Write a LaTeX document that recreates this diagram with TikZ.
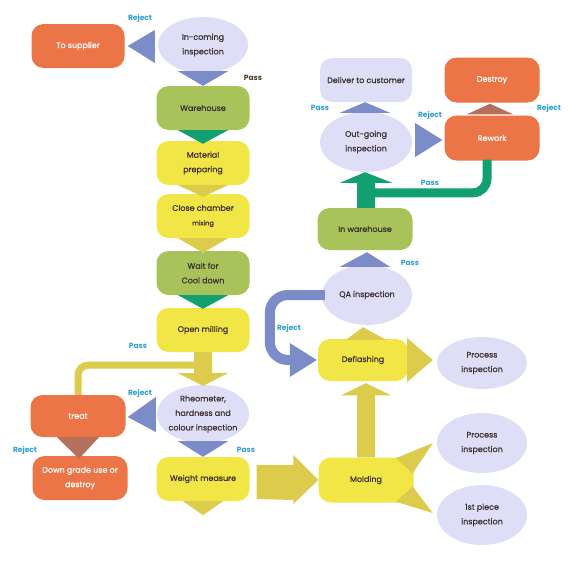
\documentclass[tikz,border=0pt]{standalone}
\usepackage{fontspec}
\setmainfont{Poppins}
\newfontfamily\boxfont{Poppins}[FakeBold=0.6]
\usetikzlibrary{shapes.geometric,calc}
\definecolor{orng}{HTML}{EC7548}
\definecolor{lav}{HTML}{DEDEF6}
\definecolor{bluT}{HTML}{7B8CC8}
\definecolor{grnL}{HTML}{A9C35B}
\definecolor{grnD}{HTML}{12A070}
\definecolor{yel}{HTML}{F2E646}
\definecolor{yelD}{HTML}{DDCB4C}
\definecolor{brnT}{HTML}{B4705A}
\definecolor{lblue}{HTML}{2A9ED6}
\definecolor{passdk}{HTML}{4A3A20}
\definecolor{txt}{HTML}{3B2F2F}
\begin{document}
\begin{tikzpicture}[x=1pt,y=1pt,
  box/.style={rectangle, rounded corners=12pt, minimum width=93pt, minimum height=44pt,
    inner sep=1pt, align=center, text=txt, font=\boxfont\fontsize{8}{14.5}\selectfont},
  oval/.style={ellipse, fill=lav, minimum width=90pt, minimum height=56pt,
    inner sep=-12pt, align=center, text=txt, font=\boxfont\fontsize{8}{14.5}\selectfont},
  wtxt/.style={text=white},
  lab/.style={font=\fontsize{7.5}{8}\selectfont\bfseries, text=lblue, inner sep=0pt}]
\useasboundingbox (0,0) rectangle (570,-570);
% ---- nodes
\node[oval] (inc) at (203,-45) {In-coming\\inspection};
\node[box, fill=orng, wtxt] (sup) at (78,-46) {To supplier};
\node[box, fill=grnL] (wh) at (203,-108) {Warehouse};
\node[box, fill=yel] (mat) at (203,-163) {Material\\preparing};
\node[box, fill=yel] (close) at (203,-216) {Close chamber\\{\fontsize{6.5}{14}\selectfont mixing}};
\node[box, fill=grnL] (wait) at (203,-273) {Wait for\\Cool down};
\node[box, fill=yel] (open) at (203,-330) {Open milling};
\node[oval, minimum width=92pt, minimum height=58pt] (rheo) at (203,-414) {Rheometer,\\hardness and\\colour inspection};
\node[box, fill=orng, wtxt, minimum width=95pt, minimum height=42pt] (treat) at (78,-416) {treat};
\node[box, fill=orng, wtxt, minimum width=95pt] (down) at (80,-478) {Down grade use or\\destroy};
\node[box, fill=yel] (weight) at (203,-479) {Weight measure};
\node[box, fill=yel, minimum width=95pt, minimum height=45pt] (mold) at (366,-480) {Molding};
\node[oval, minimum height=60pt] (pi2) at (482,-443) {Process\\inspection};
\node[oval, minimum height=60pt] (fp) at (482,-515) {1st piece\\inspection};
\node[box, fill=yel, minimum width=90pt, minimum height=42pt] (defl) at (363,-360) {Deflashing};
\node[oval, minimum height=52pt] (pi1) at (482,-363) {Process\\inspection};
\node[oval, minimum height=60pt] (qa) at (367,-295) {QA inspection};
\node[box, fill=grnL, minimum width=95pt, minimum height=42pt] (inw) at (365,-229) {In warehouse};
\node[oval, minimum width=92pt, minimum height=60pt] (out) at (366,-142) {Out-going\\inspection};
\node[box, fill=lav, minimum width=92pt] (dlv) at (366,-80) {Deliver to customer};
\node[box, fill=orng, wtxt, minimum width=95pt, minimum height=45pt] (rew) at (492,-138) {Rework};
\node[box, fill=orng, wtxt, minimum width=95pt, minimum height=45pt] (des) at (492,-80) {Destroy};
% ---- connectors
\fill[bluT] ($(inc.west)+(-3,15)$) -- ($(inc.west)+(-3,-18)$) -- ($(sup.east)+(3,0)$) -- cycle;
\fill[bluT] ($(inc.south)+(-25,2)$) -- ($(inc.south)+(25,2)$) -- (wh.north) -- cycle;
\fill[grnD] ($(wh.south)+(-25,0)$) -- ($(wh.south)+(25,0)$) -- ($(mat.north)+(0,-3)$) -- cycle;
\fill[yelD] ($(mat.south)+(-25,0)$) -- ($(mat.south)+(25,0)$) -- ($(close.north)+(0,-3)$) -- cycle;
\fill[yelD] ($(close.south)+(-25,0)$) -- ($(close.south)+(25,0)$) -- ($(wait.north)+(0,-2)$) -- cycle;
\fill[grnD] ($(wait.south)+(-25,0)$) -- ($(wait.south)+(25,0)$) -- ($(open.north)+(0,-1)$) -- cycle;
\draw[yelD, line width=7pt, rounded corners=10pt] ($(open.south)+(-9,-13)$) -| (treat.north);
\fill[yelD] ($(open.south)+(-9,0)$) -- ($(open.south)+(9,0)$) -- ($(open.south)+(9,-21)$)
  -- ($(open.south)+(25,-21)$) -- ($(rheo.north)+(0,-1)$) -- ($(open.south)+(-25,-21)$)
  -- ($(open.south)+(-9,-21)$) -- cycle;
\fill[bluT] ($(rheo.west)+(-1,17)$) -- ($(rheo.west)+(-1,-18)$) -- ($(treat.east)+(2,-1)$) -- cycle;
\fill[brnT] ($(treat.south)+(-21,0)$) -- ($(treat.south)+(21,0)$) -- ($(down.north)+(-1,-3)$) -- cycle;
\fill[bluT] ($(rheo.south)+(-25,2)$) -- ($(rheo.south)+(25,2)$) -- (weight.north) -- cycle;
\coordinate (wend) at ($(weight.south)+(0,-14)$);
\fill[yelD] ($(weight.south)+(-20,0)$) -- ($(weight.south)+(20,0)$) -- (wend) -- cycle;
\fill[yelD] ($(weight.east)+(7,14)$) -- ($(mold.west)+(-25,15)$) -- ($(mold.west)+(-25,25)$)
  -- (mold.west) -- ($(mold.west)+(-25,-24)$) -- ($(mold.west)+(-25,-20)$)
  -- ($(weight.east)+(7,-20)$) -- cycle;
\fill[yelD] ($(mold.north)+(-9,0)$) -- ($(mold.north)+(-9,62)$) -- ($(mold.north)+(-25,62)$)
  -- ($(mold.north |- defl.south)+(0,-2)$) -- ($(mold.north)+(25,62)$)
  -- ($(mold.north)+(9,62)$) -- ($(mold.north)+(9,0)$) -- cycle;
\fill[yelD] ($(defl.north)+(-17,-1)$) -- ($(defl.north)+(23,-1)$) -- ($(qa.south)+(-4,-2)$) -- cycle;
\fill[yelD] ($(defl.east)+(-1,22)$) -- ($(defl.east)+(-1,-22)$) -- ($(pi1.west)+(-4,3)$) -- cycle;
\fill[yelD] ($(mold.north east)+(-18,-1)$) -- ($(pi2.west)+(-4,0)$) -- ($(mold.north east)+(-1,-16)$) -- cycle;
\fill[yelD] ($(mold.south east)+(-18,1)$) -- ($(fp.west)+(-4,2)$) -- ($(mold.south east)+(-1,16)$) -- cycle;
\fill[bluT] ($(qa.north)+(-27,-2)$) -- ($(qa.north)+(23,-2)$) -- ($(inw.south)+(2,-2)$) -- cycle;
\draw[bluT, line width=10pt, rounded corners=18pt] ($(qa.west)+(3,0)$) -- ++(-55,0) |- ($(defl.west)+(-27,0)$);
\fill[bluT] ($(defl.west)+(-28,17)$) -- ($(defl.west)+(-28,-17)$) -- ($(defl.west)+(-1,0)$) -- cycle;
\draw[grnD, line width=9pt, rounded corners=14pt] ($(rew.south)+(-5,1)$) |- ($(inw.north)+(5,15)$);
\fill[grnD] ($(inw.north)+(-8,0)$) -- ($(inw.north)+(-8,25)$) -- ($(inw.north)+(-25,25)$)
  -- (inw.north |- out.south) -- ($(inw.north)+(27,25)$) -- ($(inw.north)+(10,25)$)
  -- ($(inw.north)+(10,0)$) -- cycle;
\fill[bluT] ($(out.north)+(-26,-1)$) -- ($(out.north)+(24,-1)$) -- ($(dlv.south)+(-1,0)$) -- cycle;
\fill[bluT] ($(out.east)+(3,19)$) -- ($(out.east)+(3,-15)$) -- ($(rew.west)+(-2,-2)$) -- cycle;
\fill[brnT] ($(rew.north)+(-25,1)$) -- ($(rew.north)+(21,1)$) -- ($(des.south)+(-2,-1)$) -- cycle;
% ---- labels
\node[lab] (l1) at (140,-18) {Reject};
\node[lab, text=passdk] (l2) at (253,-78) {Pass};
\node[lab] (l3) at (138,-346) {Pass};
\node[lab] (l4) at (140,-393) {Reject};
\node[lab] (l5) at (25,-450) {Reject};
\node[lab] (l6) at (246,-450) {Pass};
\node[lab] (l7) at (289,-328) {Reject};
\node[lab] (l8) at (410,-263) {Pass};
\node[lab] (l9) at (430,-183) {Pass};
\node[lab] (l10) at (320,-108) {Pass};
\node[lab] (l11) at (430,-115) {Reject};
\node[lab] (l12) at (549,-108) {Reject};
\end{tikzpicture}
\end{document}
